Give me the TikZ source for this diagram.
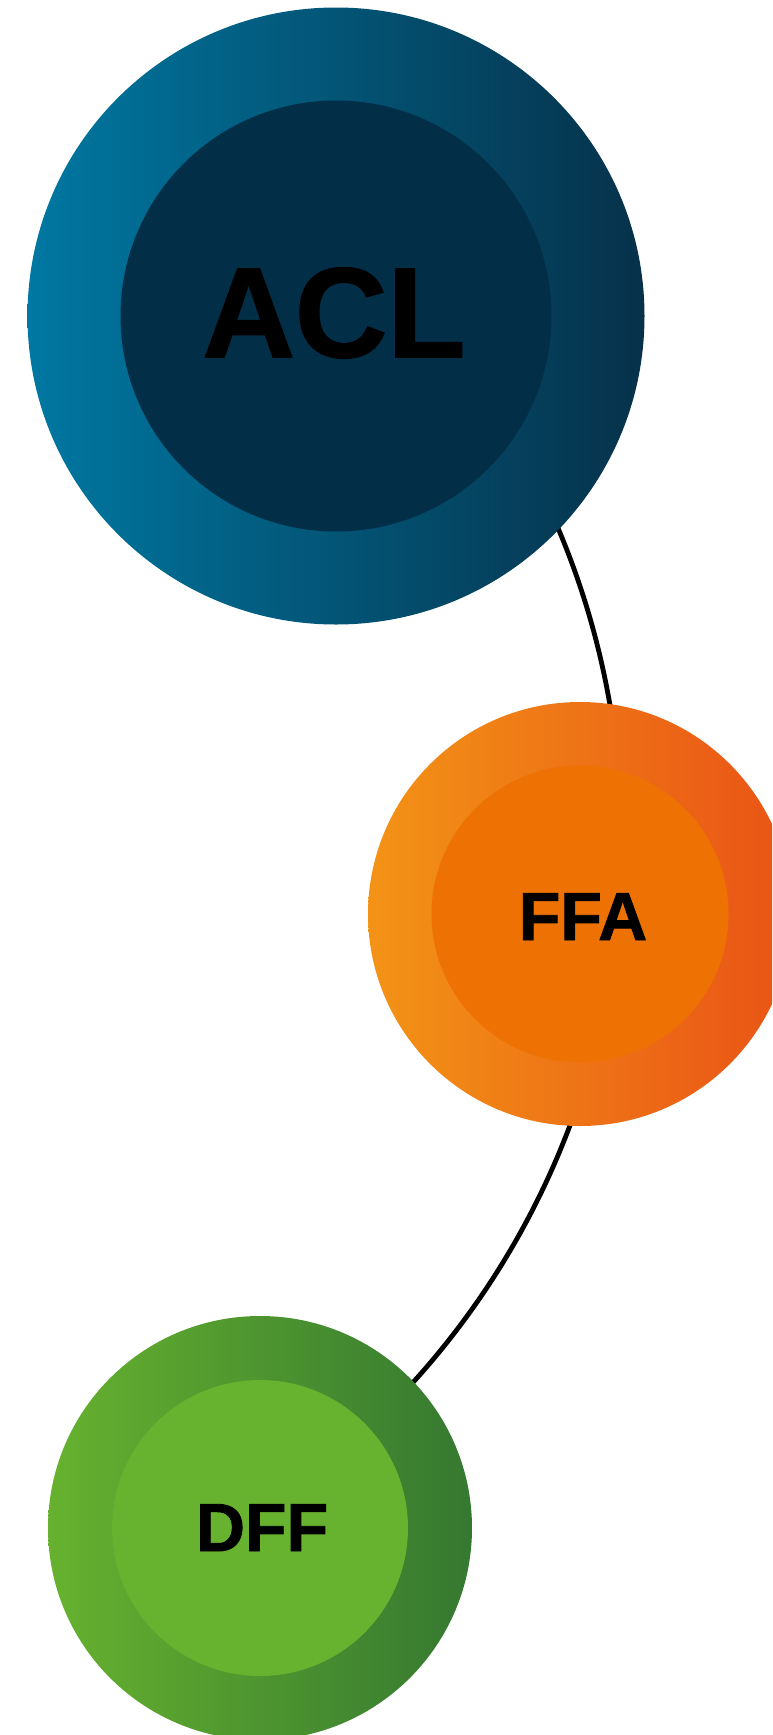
\documentclass[tikz,border=0pt]{standalone}
\usepackage{fontspec}
\setmainfont{Liberation Sans}[BoldFeatures={FakeBold=1.3}]
\begin{document}
\begin{tikzpicture}[x=1pt,y=1pt,
  ring/.style={circle,draw=none,inner sep=0pt,minimum size=#1},
  core/.style={circle,draw=none,inner sep=0pt,minimum size=#1},
  biglabel/.style={anchor=base,inner sep=0pt,font=\bfseries\fontsize{128}{128}\selectfont},
  smalllabel/.style={anchor=base,inner sep=0pt,font=\bfseries\fontsize{68}{68}\selectfont},
  link/.style={line width=4.8pt,black}]
\definecolor{aclL}{HTML}{0078A2}
\definecolor{aclR}{HTML}{06314A}
\definecolor{aclC}{HTML}{022F47}
\definecolor{ffaL}{HTML}{F39316}
\definecolor{ffaR}{HTML}{E95316}
\definecolor{ffaC}{HTML}{EE7203}
\definecolor{dffL}{HTML}{66B22F}
\definecolor{dffR}{HTML}{357830}
\definecolor{dffC}{HTML}{67B22F}
\useasboundingbox (0,0) rectangle (772,-1735);
\clip (0,0) rectangle (772,-1735);

% connecting arc, drawn first so the discs hide its ends
\coordinate (arcO) at (-183.4,-841.7);
\draw[link] (arcO) ++(28:805) arc[start angle=28,end angle=-47,radius=805];

% ACL
\node[ring=617pt,left color=aclL,right color=aclR] (acl) at (336,-316) {};
\node[core=431pt,fill=aclC] (aclcore) at (acl.center) {};
\node[biglabel] (acltext) at (334,-357) {ACL};

% FFA
\node[ring=424pt,left color=ffaL,right color=ffaR] (ffa) at (580,-914) {};
\node[core=297pt,fill=ffaC] (ffacore) at (ffa.center) {};
\node[smalllabel] (ffatext) at (583,-940) {FFA};

% DFF
\node[ring=424pt,left color=dffL,right color=dffR] (dff) at (260,-1528) {};
\node[core=296pt,fill=dffC] (dffcore) at (dff.center) {};
\node[smalllabel] (dfftext) at (262,-1551) {DFF};
\end{tikzpicture}
\end{document}
